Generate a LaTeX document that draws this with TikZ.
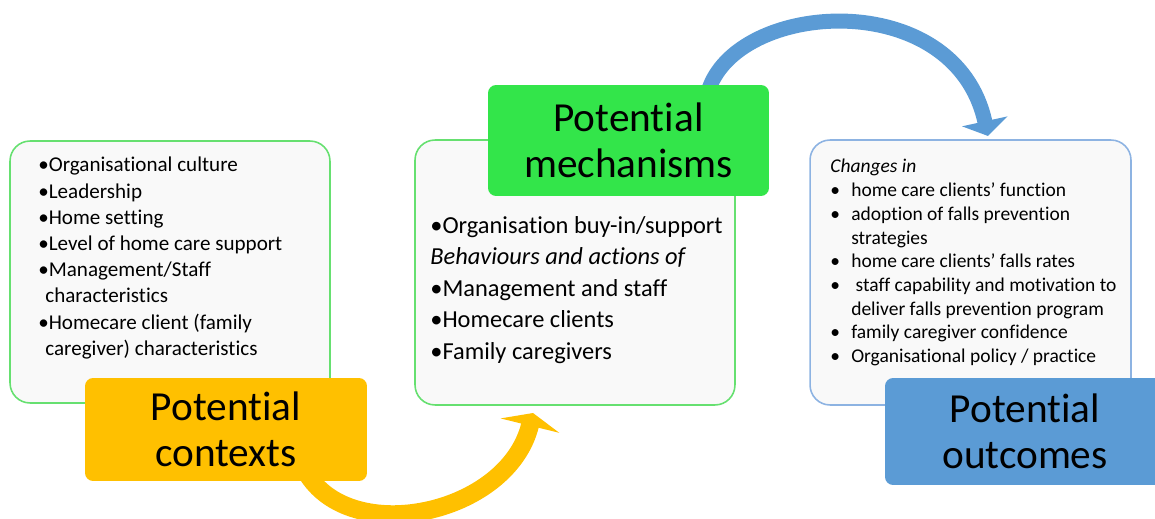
\documentclass[tikz,border=0pt]{standalone}
\usepackage{fontspec}
\setmainfont{Carlito}[Ligatures=NoCommon]
\usetikzlibrary{arrows.meta}
\definecolor{ctxyellow}{HTML}{FFC000}
\definecolor{mechgreen}{HTML}{33E54A}
\definecolor{outblue}{HTML}{5B9BD5}
\definecolor{edgegreen}{HTML}{66E070}
\definecolor{edgeblue}{HTML}{8DB3E2}
\definecolor{paper}{HTML}{F9F9F9}
\tikzset{
  listbox/.style={draw, fill=paper, rounded corners=0.4cm, line width=0.9pt,
    minimum width=6.4cm, minimum height=5.3cm},
  labelbox/.style={rounded corners=0.16cm, align=center, inner sep=0pt,
    font=\fontsize{23.5}{26.5}\selectfont},
  listtext/.style={anchor=north west, align=left, inner sep=0pt},
  yarrow/.style={draw=ctxyellow, line width=0.36cm,
    -{Triangle[length=0.26cm,width=1.2cm]}},
  barrow/.style={draw=outblue, line width=0.3cm,
    -{Triangle[length=0.3cm,width=0.92cm]}},
}
\newcommand{\obul}{\makebox[11.9pt][l]{\textbullet}}
\begin{document}
\begin{tikzpicture}[x=0.02cm,y=-0.02cm]
  \useasboundingbox (0,0) rectangle (1155,519);

  % list boxes
  \node[listbox, draw=edgegreen, minimum height=5.24cm] (ctxbox) at (170,272) {};
  \node[listbox, draw=edgegreen] (mechbox) at (575,272.5) {};
  \node[listbox, draw=edgeblue, minimum width=6.42cm] (outbox) at (970.5,272.5) {};

  \node[listtext, font=\fontsize{12}{14.9}\selectfont] (ctxlist) at (38,157) {%
    \textbullet Organisational culture\\
    \textbullet Leadership\\
    \textbullet Home setting\\
    \textbullet Level of home care support\\
    \textbullet Management/Staff\\
    \hspace*{4pt}characteristics\\
    \textbullet Homecare client (family\\
    \hspace*{4pt}caregiver) characteristics};
  \node[listtext, font=\fontsize{13.9}{17.9}\selectfont] (mechlist) at (430,216) {%
    \textbullet Organisation buy-in/support\\
    \textit{Behaviours and actions of}\\
    \textbullet Management and staff\\
    \textbullet Homecare clients\\
    \textbullet Family caregivers};
  \node[listtext, font=\fontsize{11.1}{13.5}\selectfont] (outlist) at (830,159) {%
    \textit{Changes in}\\
    \obul home care clients’ function\\
    \obul adoption of falls prevention\\
    \hspace*{11.9pt}strategies\\
    \obul home care clients’ falls rates\\
    \obul\ staff capability and motivation to\\
    \hspace*{11.9pt}deliver falls prevention program\\
    \obul family caregiver confidence\\
    \obul Organisational policy / practice};

  % curved arrows
  \coordinate (yfrom) at (306,472);
  \coordinate (yto) at (533,413);
  \draw[yarrow] (yfrom) .. controls (350,548) and (508,515) .. (yto);
  \coordinate (bfrom) at (708,92);
  \coordinate (bto) at (988,136);
  \draw[barrow] (bfrom) .. controls (735,0) and (955,-15) .. (bto);

  % labels
  \node[labelbox, fill=ctxyellow, minimum width=5.64cm, minimum height=2.06cm]
    (ctx) at (226,429.5) {Potential\\contexts};
  \node[labelbox, fill=mechgreen, minimum width=5.62cm, minimum height=2.22cm]
    (mech) at (628.5,140.5) {Potential\\mechanisms};
  \node[labelbox, fill=outblue, minimum width=5.6cm, minimum height=2.14cm]
    (out) at (1025,431.5) {Potential\\outcomes};
\end{tikzpicture}
\end{document}
